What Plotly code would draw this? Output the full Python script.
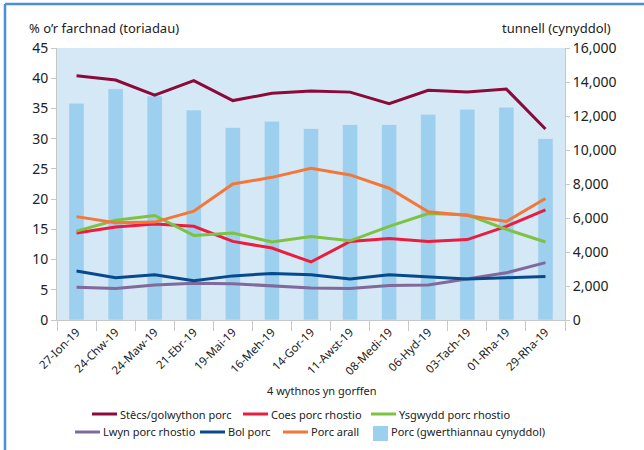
import plotly.graph_objects as go

weeks = ["27-Ion-19", "24-Chw-19", "24-Maw-19", "21-Ebr-19", "19-Mai-19", "16-Meh-19",
         "14-Gor-19", "11-Awst-19", "08-Medi-19", "06-Hyd-19", "03-Tach-19", "01-Rha-19", "29-Rha-19"]

# cumulative volume, tonnes (right axis)
porc_volume = [12750, 13600, 13180, 12350, 11330, 11690, 11270, 11500, 11500, 12100, 12400, 12520, 10680]

# market share, % (left axis)
stecs = [40.4, 39.7, 37.2, 39.6, 36.3, 37.5, 37.9, 37.7, 35.8, 38.0, 37.7, 38.2, 31.6]
coes = [14.4, 15.4, 15.9, 15.5, 13.0, 11.9, 9.6, 13.0, 13.5, 13.0, 13.3, 15.5, 18.2]
ysgwydd = [14.7, 16.5, 17.3, 14.0, 14.4, 12.9, 13.8, 13.1, 15.5, 17.6, 17.4, 15.0, 12.9]
lwyn = [5.4, 5.2, 5.8, 6.1, 6.0, 5.7, 5.3, 5.2, 5.7, 5.8, 6.8, 7.8, 9.5]
bol = [8.1, 7.0, 7.5, 6.5, 7.3, 7.7, 7.5, 6.8, 7.5, 7.1, 6.8, 7.0, 7.2]
arall = [17.1, 16.1, 16.2, 18.0, 22.5, 23.6, 25.1, 24.0, 21.8, 17.9, 17.3, 16.3, 20.1]

bar_name = "Porc (gwerthiannau cynyddol)"
bar_color = "#9dcfee"
lines = [
    ("Stêcs/golwython porc", stecs, "#8b0a3a"),
    ("Coes porc rhostio", coes, "#ec1c3e"),
    ("Ysgwydd porc rhostio", ysgwydd, "#7dc242"),
    ("Lwyn porc rhostio", lwyn, "#806a9c"),
    ("Bol porc", bol, "#064a8c"),
    ("Porc arall", arall, "#f47738"),
]

W, H = 644, 450
L, R, T, B = 57, 79, 48, 130
pw, ph = W - L - R, H - T - B


def px(x):
    return (x - L) / pw


def py(y):
    return (H - B - y) / ph


fig = go.Figure()
fig.add_trace(go.Bar(x=weeks, y=porc_volume, name=bar_name, marker_color=bar_color,
                     width=0.39, yaxis="y", showlegend=False))
for name, vals, col in lines:
    fig.add_trace(go.Scatter(x=weeks, y=vals, name=name, mode="lines", showlegend=False,
                             line=dict(color=col, width=3), yaxis="y2"))

# hand-placed legend (two rows, as in the original)
legend_pos = [(92, 414), (243, 414), (371, 414), (75, 432), (200, 432), (283, 432)]
shapes = []
annotations = []
for (name, _, col), (lx, ly) in zip(lines, legend_pos):
    shapes.append(dict(type="line", xref="paper", yref="paper", x0=px(lx), x1=px(lx + 25),
                       y0=py(ly), y1=py(ly), line=dict(color=col, width=3)))
    annotations.append(dict(text=name, xref="paper", yref="paper", x=px(lx + 26), y=py(ly),
                            xanchor="left", yanchor="middle", showarrow=False,
                            font=dict(size=11)))
shapes.append(dict(type="rect", xref="paper", yref="paper", x0=px(373), x1=px(388),
                   y0=py(426), y1=py(441), fillcolor=bar_color, line=dict(width=0)))
annotations.append(dict(text=bar_name, xref="paper", yref="paper", x=px(389), y=py(432),
                        xanchor="left", yanchor="middle", showarrow=False, font=dict(size=11)))

annotations += [
    dict(text="% o’r farchnad (toriadau)", xref="paper", yref="paper", x=px(27), y=py(28),
         xanchor="left", yanchor="middle", showarrow=False, font=dict(size=13)),
    dict(text="tunnell (cynyddol)", xref="paper", yref="paper", x=px(613), y=py(28),
         xanchor="right", yanchor="middle", showarrow=False, font=dict(size=13)),
    dict(text="4 wythnos yn gorffen", xref="paper", yref="paper", x=px(322), y=py(390),
         xanchor="center", yanchor="middle", showarrow=False, font=dict(size=11)),
]

# outer frame (top and left edges visible)
shapes += [
    dict(type="line", xref="paper", yref="paper", x0=px(5), x1=px(W), y0=py(4), y1=py(4),
         line=dict(color="#4a8fd8", width=2.5)),
    dict(type="line", xref="paper", yref="paper", x0=px(5), x1=px(5), y0=py(H), y1=py(4),
         line=dict(color="#4a8fd8", width=2.5)),
]

fig.update_layout(
    width=W, height=H,
    margin=dict(l=L, r=R, t=T, b=B),
    paper_bgcolor="white", plot_bgcolor="#d4e8f6",
    font=dict(family="Noto Sans", size=13, color="#222"),
    showlegend=False,
    xaxis=dict(tickangle=-45, tickfont=dict(size=11.5), showline=True, linecolor="#c8c8c8",
               ticks="outside", tickson="boundaries", ticklen=10, tickcolor="#c8c8c8",
               automargin=False),
    yaxis=dict(side="right", range=[0, 16000], dtick=2000, tickformat=",", showgrid=False,
               showline=True, linecolor="#c8c8c8", ticks="outside", ticklen=4,
               tickcolor="#c8c8c8", tickfont=dict(size=14), zeroline=False, automargin=False),
    yaxis2=dict(side="left", overlaying="y", range=[0, 45], dtick=5, showgrid=False,
                showline=True, linecolor="#c8c8c8", ticks="outside", ticklen=5,
                tickcolor="#c8c8c8", tickfont=dict(size=14), zeroline=False, automargin=False),
    annotations=annotations,
    shapes=shapes,
)

# drop the default page margin so the 644x450 figure sits flush in the window
fig.write_html("out.html", config={"displayModeBar": False},
               post_script="document.body.style.margin='0';")
